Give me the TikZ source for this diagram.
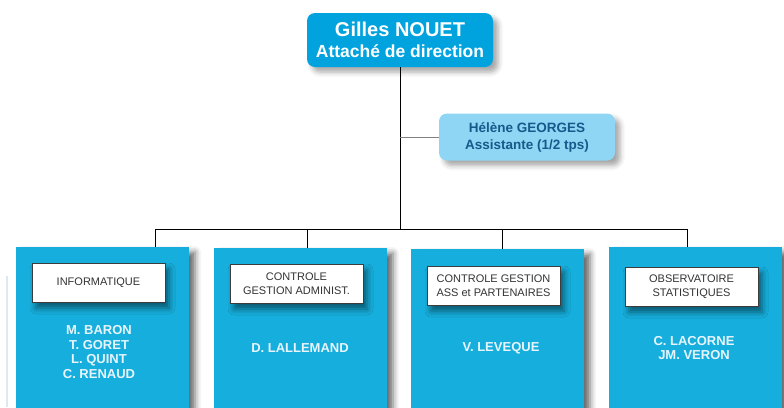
\documentclass[tikz,border=0pt]{standalone}
\usepackage{fontspec}
\setmainfont{Liberation Sans}
\usetikzlibrary{shadows.blur}

\definecolor{topblue}{RGB}{0,163,222}
\definecolor{assblue}{RGB}{142,214,243}
\definecolor{asstext}{RGB}{22,90,140}
\definecolor{unitblue}{RGB}{22,174,220}
\definecolor{nametext}{RGB}{232,245,252}
\definecolor{labelline}{RGB}{60,60,60}
\definecolor{faint}{RGB}{222,232,240}

\begin{document}
\begin{tikzpicture}[x=1pt,y=-1pt,
	topbox/.style={fill=topblue,rounded corners=8pt,minimum width=186pt,minimum height=54pt,align=center,
		text=white,font=\fontsize{17.5}{19.5}\selectfont\bfseries,
		blur shadow={shadow xshift=5pt,shadow yshift=-5pt,shadow blur radius=5pt,shadow opacity=35}},
	assbox/.style={fill=assblue,rounded corners=8pt,minimum width=176pt,minimum height=47pt,align=center,
		text=asstext,font=\fontsize{13.5}{17}\selectfont\bfseries,
		blur shadow={shadow xshift=5pt,shadow yshift=-5pt,shadow blur radius=5pt,shadow opacity=35}},
	unitbox/.style={fill=unitblue,anchor=north,minimum width=173pt,minimum height=175pt,
		blur shadow={shadow xshift=6pt,shadow yshift=-5pt,shadow blur radius=6pt,shadow opacity=60}},
	labelbox/.style={fill=white,draw=labelline,line width=1pt,minimum width=133pt,minimum height=39pt,
		align=center,text=black!80,font=\fontsize{11}{14}\selectfont,
		blur shadow={shadow xshift=4pt,shadow yshift=-6pt,shadow blur radius=6pt,shadow opacity=50}},
	names/.style={align=center,text=nametext,font=\fontsize{13}{14.5}\selectfont\bfseries}]
	  \useasboundingbox (0,0) rectangle (784,407);
	  \draw[faint,line width=1.5pt] (7,276)--(7,407);

	  \node[topbox] (dir) at (400,40) {{\fontsize{20}{21}\selectfont Gilles NOUET}\\[1pt]Attaché de direction};
	  \node[assbox] (ass) at (527,137) {Hélène GEORGES\\Assistante (1/2 tps)};

	  \node[unitbox] (u1) at (102.5,247) {};
	  \node[unitbox] (u2) at (300.5,248) {};
	  \node[unitbox] (u3) at (497.5,249) {};
	  \node[unitbox] (u4) at (695.5,247) {};

	  \foreach \i/\x in {1/155,2/307,3/502,4/687}{
		\coordinate (t\i) at (\x,229);
		\draw[line width=1pt] (t\i)--(t\i |- u\i.north);
	  }
	  \draw[line width=1pt] (t1)--(t4);
	  \draw[line width=1pt] (dir.south)--(dir.south |- t1);
	  \draw[black!50,line width=1pt] (dir.south |- ass.west)--(ass.west);

	  \node[labelbox] (l1) at (98.5,282.5) {INFORMATIQUE};
	  \node[labelbox] (l2) at (296.5,283.5) {CONTROLE\\GESTION ADMINIST.};
	  \node[labelbox] (l3) at (493.5,285.5) {CONTROLE GESTION\\ASS et PARTENAIRES};
	  \node[labelbox] (l4) at (691.5,286.5) {OBSERVATOIRE\\STATISTIQUES};

	  \node[names] (n1) at (99,352) {M. BARON\\T. GORET\\L. QUINT\\C. RENAUD};
	  \node[names] (n2) at (300,348) {D. LALLEMAND};
	  \node[names] (n3) at (501,348) {V. LEVEQUE};
	  \node[names] (n4) at (694,348) {C. LACORNE\\JM. VERON};
	\end{tikzpicture}
\end{document}
